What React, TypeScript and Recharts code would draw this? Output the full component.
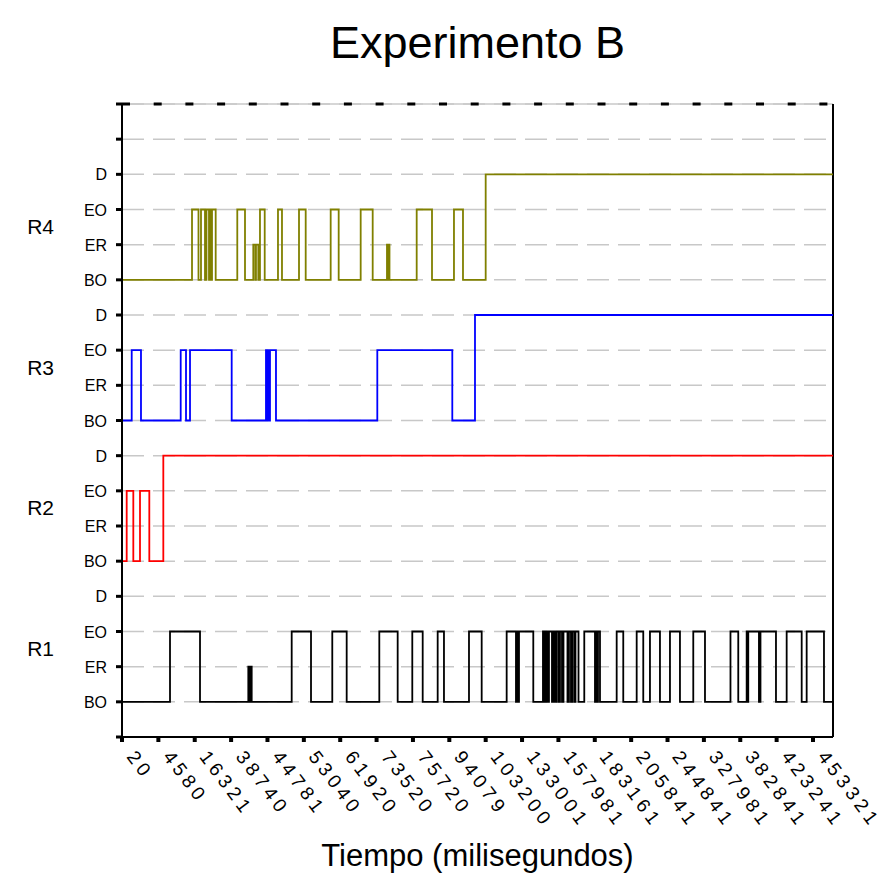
import React from 'react';
import { LineChart, Line, XAxis, YAxis, CartesianGrid, ReferenceLine } from 'recharts';

// tick labels on the time axis (one per event index)
const timeLabels = [
  '20', '4580', '16321', '38740', '44781', '53040', '61920', '73520', '75720', '94079',
  '103200', '133001', '157981', '183161', '205841', '244841', '327981', '382841', '423241', '453321',
];

const levels = ['BO', 'ER', 'EO', 'D'];
const groups = ['R1', 'R2', 'R3', 'R4'];
const X_END = 19.55;

// state changes per router: [event index, state]
const r1Steps: [number, string][] = [
  [0, 'BO'], [1.32, 'EO'], [2.145, 'BO'], [3.473, 'ER'], [3.5, 'BO'], [3.528, 'ER'], [3.566, 'BO'],
  [4.666, 'EO'], [5.197, 'BO'], [5.782, 'EO'], [6.178, 'BO'], [7.075, 'EO'], [7.58, 'BO'],
  [7.982, 'EO'], [8.268, 'BO'], [8.68, 'EO'], [8.853, 'BO'], [9.541, 'EO'], [9.89, 'BO'],
  [10.577, 'EO'], [10.833, 'BO'], [10.861, 'EO'], [10.888, 'BO'], [10.916, 'EO'], [11.309, 'BO'],
  [11.575, 'EO'], [11.617, 'BO'], [11.658, 'EO'], [11.699, 'BO'], [11.74, 'EO'], [11.823, 'BO'],
  [11.864, 'EO'], [11.905, 'BO'], [11.947, 'EO'], [12.002, 'BO'], [12.043, 'EO'], [12.098, 'BO'],
  [12.139, 'EO'], [12.249, 'BO'], [12.29, 'EO'], [12.345, 'BO'], [12.387, 'EO'], [12.442, 'BO'],
  [12.469, 'EO'], [12.552, 'BO'], [12.711, 'EO'], [13.005, 'BO'], [13.033, 'EO'], [13.06, 'BO'],
  [13.088, 'EO'], [13.143, 'BO'], [13.602, 'EO'], [13.783, 'BO'], [14.152, 'EO'], [14.333, 'BO'],
  [14.517, 'EO'], [14.792, 'BO'], [15.067, 'EO'], [15.342, 'BO'], [15.708, 'EO'], [16.03, 'BO'],
  [16.731, 'EO'], [16.945, 'BO'], [17.176, 'EO'], [17.198, 'BO'], [17.22, 'EO'], [17.514, 'BO'],
  [17.556, 'EO'], [17.982, 'BO'], [18.276, 'EO'], [18.689, 'BO'], [18.826, 'EO'], [19.302, 'BO'],
];

const r2Steps: [number, string][] = [
  [0, 'BO'], [0.129, 'EO'], [0.311, 'BO'], [0.495, 'EO'], [0.751, 'BO'], [1.136, 'D'],
];

const r3Steps: [number, string][] = [
  [0, 'BO'], [0.267, 'EO'], [0.522, 'BO'], [1.614, 'EO'], [1.76, 'BO'], [1.87, 'EO'], [3.016, 'BO'],
  [3.959, 'EO'], [3.987, 'BO'], [4.014, 'EO'], [4.042, 'BO'], [4.069, 'EO'], [4.234, 'BO'],
  [7.02, 'EO'], [9.082, 'BO'], [9.706, 'D'],
];

const r4Steps: [number, string][] = [
  [0, 'BO'], [1.925, 'EO'], [2.103, 'BO'], [2.172, 'EO'], [2.282, 'BO'], [2.323, 'EO'], [2.392, 'BO'],
  [2.42, 'EO'], [2.461, 'BO'], [2.475, 'EO'], [2.576, 'BO'], [3.17, 'EO'], [3.382, 'BO'],
  [3.61, 'ER'], [3.665, 'BO'], [3.684, 'ER'], [3.748, 'BO'], [3.794, 'EO'], [3.924, 'BO'],
  [4.289, 'EO'], [4.399, 'BO'], [4.867, 'EO'], [5.051, 'BO'], [5.738, 'EO'], [5.958, 'BO'],
  [6.563, 'EO'], [6.893, 'BO'], [7.286, 'ER'], [7.314, 'BO'], [7.327, 'ER'], [7.355, 'BO'],
  [8.103, 'EO'], [8.524, 'BO'], [9.128, 'EO'], [9.376, 'BO'], [10.0, 'D'],
];

const toSeries = (steps: [number, string][], group: number) => {
  const base = group * 4 + 1;
  const pts = steps.map(([x, s]) => ({ x, y: base + levels.indexOf(s) }));
  pts.push({ x: X_END, y: pts[pts.length - 1].y });
  return pts;
};

const r1Data = toSeries(r1Steps, 0);
const r2Data = toSeries(r2Steps, 1);
const r3Data = toSeries(r3Steps, 2);
const r4Data = toSeries(r4Steps, 3);

// integer ticks carry the state labels, the half-way ticks carry the router names
const levelTicks = Array.from({ length: 19 }, (_, i) => i);
const groupTicks = groups.map((_, i) => i * 4 + 2.5);
const yTicks = [...levelTicks, ...groupTicks].sort((a, b) => a - b);

const font = '"Liberation Sans", Arial, sans-serif';

const StateTick = (props: any) => {
  const { x, y, payload } = props;
  const v = payload.value;
  if (!Number.isInteger(v)) {
    return (
      <text x={x - 68} y={y} dy={7} textAnchor="end" fontSize={21} fontFamily={font} fill="#000">
        {groups[Math.floor(v / 4)]}
      </text>
    );
  }
  const label = v >= 1 && v <= 16 ? levels[(v - 1) % 4] : '';
  return (
    <g>
      <line x1={x - 6} x2={x} y1={y} y2={y} stroke="#000" strokeWidth={3} />
      <text x={x - 15} y={y} dy={6} textAnchor="end" fontSize={16} fontFamily={font} fill="#000">
        {label}
      </text>
    </g>
  );
};

const TimeTick = (props: any) => {
  const { x, y, payload } = props;
  const ax = x + 4;
  const ay = y + 13;
  return (
    <text x={ax} y={ay} transform={`rotate(53 ${ax} ${ay})`} fontSize={19} fontFamily={font}
      letterSpacing={4.5} fill="#000">
      {timeLabels[payload.value]}
    </text>
  );
};

export default function App() {
  return (
    <div style={{ position: 'absolute', left: 0, top: 0, width: 890, height: 880, background: '#fff', fontFamily: font }}>
      <div style={{ position: 'absolute', left: 122, width: 711, top: 20, fontSize: 45, lineHeight: '46px', textAlign: 'center', color: '#000' }}>
        Experimento B
      </div>
      <LineChart width={890} height={880} margin={{ top: 104, right: 57, bottom: 83, left: 0 }}>
        <CartesianGrid vertical={false} horizontalValues={levelTicks} stroke="#c8c8c8" strokeDasharray="22 9" strokeWidth={1.5} />
        <XAxis type="number" dataKey="x" domain={[0, X_END]} ticks={timeLabels.map((_, i) => i)}
          allowDataOverflow height={60} tickSize={5} tickMargin={2} interval={0}
          axisLine={{ stroke: '#000', strokeWidth: 2 }} tickLine={{ stroke: '#000', strokeWidth: 4 }}
          tick={<TimeTick />} />
        <YAxis type="number" domain={[0, 18]} ticks={yTicks} interval={0} width={122}
          tickSize={0} tickMargin={0} tickLine={false}
          axisLine={{ stroke: '#000', strokeWidth: 2 }} tick={<StateTick />} />
        <ReferenceLine y={18} stroke="#c8c8c8" strokeWidth={1.5} />
        <ReferenceLine y={18} stroke="#000" strokeWidth={3} strokeDasharray="8 23.7" />
        <ReferenceLine x={X_END} stroke="#000" strokeWidth={2} />
        <Line data={r1Data} dataKey="y" type="stepAfter" stroke="#000000" strokeWidth={1.8} dot={false} isAnimationActive={false} />
        <Line data={r2Data} dataKey="y" type="stepAfter" stroke="#ff0000" strokeWidth={1.8} dot={false} isAnimationActive={false} />
        <Line data={r3Data} dataKey="y" type="stepAfter" stroke="#0000ff" strokeWidth={1.8} dot={false} isAnimationActive={false} />
        <Line data={r4Data} dataKey="y" type="stepAfter" stroke="#808000" strokeWidth={1.8} dot={false} isAnimationActive={false} />
      </LineChart>
      <div style={{ position: 'absolute', left: 122, width: 711, top: 838, fontSize: 31, lineHeight: '36px', textAlign: 'center', color: '#000' }}>
        Tiempo (milisegundos)
      </div>
    </div>
  );
}
